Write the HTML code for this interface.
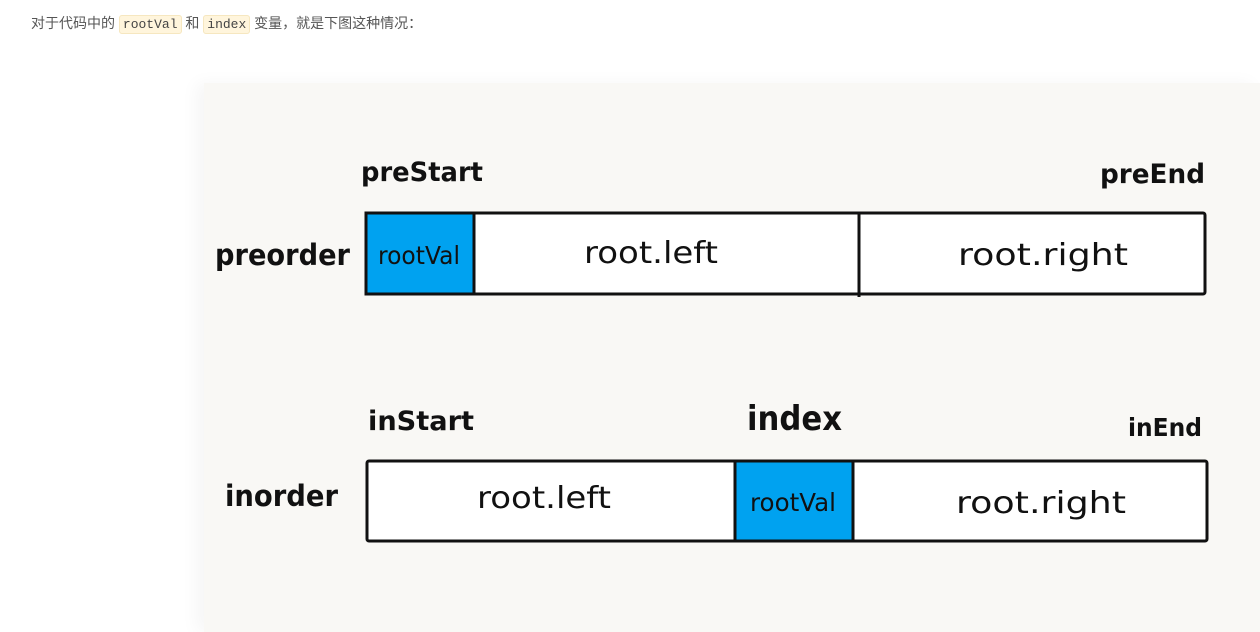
<!DOCTYPE html>
<html><head><meta charset="utf-8">
<style>
html,body{margin:0;padding:0;background:#fff;width:1260px;height:632px;overflow:hidden;position:relative}
.p{position:absolute;left:31px;top:13px;font:14px "Liberation Sans","Noto Sans CJK SC",sans-serif;color:#555;white-space:nowrap}
code{font:13px "Liberation Mono",monospace;background:#fff5dc;border:1px solid #f6e7c0;border-radius:3px;padding:1px 3px;color:#444}
.img{position:absolute;left:204px;top:83px;width:1056px;height:549px;background:#f9f8f5;box-shadow:-8px 0 16px rgba(0,0,0,0.04)}
svg{position:absolute;left:0;top:0}
text{font-family:"DejaVu Sans","Liberation Sans",sans-serif;font-weight:bold;fill:#111}
</style></head><body>
<div class="p">对于代码中的 <code>rootVal</code> 和 <code>index</code> 变量，就是下图这种情况：</div>
<div class="img"></div>
<svg width="1260" height="632" viewBox="0 0 1260 632">
<g stroke="#111" stroke-width="3">
<rect x="366" y="213" width="839" height="81" fill="#fff" rx="2"/>
<rect x="366" y="213" width="108" height="81" fill="#00a2f0"/>
<line x1="859" y1="213" x2="859" y2="297"/>
<rect x="367" y="461" width="840" height="80" fill="#fff" rx="2"/>
<rect x="735" y="461" width="118" height="80" fill="#00a2f0"/>
</g>
<text x="361" y="181" font-size="27" textLength="122" lengthAdjust="spacingAndGlyphs">preStart</text>
<text x="1100" y="183" font-size="27" textLength="105" lengthAdjust="spacingAndGlyphs">preEnd</text>
<text x="215" y="265" font-size="29" textLength="135" lengthAdjust="spacingAndGlyphs">preorder</text>
<text x="378" y="264" font-size="25" style="font-weight:normal" textLength="82" lengthAdjust="spacingAndGlyphs">rootVal</text>
<text x="584" y="263" font-size="30" style="font-weight:normal" textLength="134" lengthAdjust="spacingAndGlyphs">root.left</text>
<text x="958" y="265" font-size="30" style="font-weight:normal" textLength="170" lengthAdjust="spacingAndGlyphs">root.right</text>
<text x="368" y="430" font-size="27" textLength="106" lengthAdjust="spacingAndGlyphs">inStart</text>
<text x="747" y="430" font-size="34" textLength="95" lengthAdjust="spacingAndGlyphs">index</text>
<text x="1128" y="436" font-size="25" textLength="74" lengthAdjust="spacingAndGlyphs">inEnd</text>
<text x="225" y="506" font-size="29" textLength="113" lengthAdjust="spacingAndGlyphs">inorder</text>
<text x="477" y="508" font-size="30" style="font-weight:normal" textLength="134" lengthAdjust="spacingAndGlyphs">root.left</text>
<text x="750" y="511" font-size="25" style="font-weight:normal" textLength="86" lengthAdjust="spacingAndGlyphs">rootVal</text>
<text x="956" y="513" font-size="30" style="font-weight:normal" textLength="170" lengthAdjust="spacingAndGlyphs">root.right</text>
</svg>
</body></html>
